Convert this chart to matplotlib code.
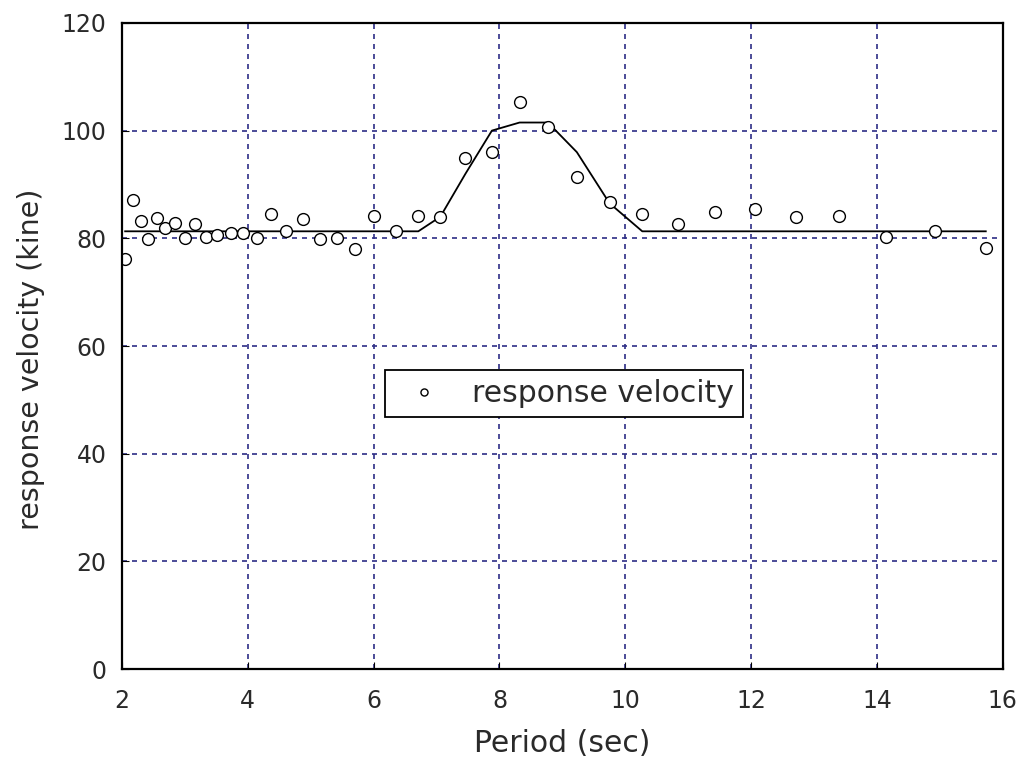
import numpy as np
import matplotlib
matplotlib.use("Agg")
import matplotlib.pyplot as plt

# 観測点 (周期, 応答速度)
period = [2.05, 2.18, 2.30, 2.41, 2.56, 2.68, 2.84, 3.00, 3.16, 3.34,
          3.51, 3.74, 3.93, 4.15, 4.37, 4.61, 4.88, 5.14, 5.42, 5.71,
          6.01, 6.36, 6.71, 7.06, 7.46, 7.88, 8.32, 8.77, 9.23, 9.75,
          10.27, 10.84, 11.43, 12.06, 12.72, 13.40, 14.14, 14.92, 15.73]
velocity = [76.2, 87.2, 83.3, 79.9, 83.7, 82.0, 82.9, 80.1, 82.7, 80.3,
            80.7, 80.9, 80.9, 80.1, 84.6, 81.4, 83.5, 79.9, 80.1, 78.1,
            84.2, 81.4, 84.2, 84.0, 95.0, 96.1, 105.3, 100.7, 91.4, 86.8,
            84.6, 82.7, 84.9, 85.5, 83.9, 84.1, 80.2, 81.4, 78.2]

# 平滑化した曲線 (同じ周期で評価)
fit_velocity = [81.3] * 23 + [84.0, 92.0, 100.0, 101.5, 101.5, 96.0, 86.5,
                              81.3, 81.3, 81.3, 81.3, 81.3, 81.3, 81.3, 81.3, 81.3]

txt_color = "#2a2a2a"

fig = plt.figure(figsize=(10.2, 7.63), dpi=100)
ax = fig.add_axes([0.1196, 0.123, 0.8635, 0.847])

ax.plot(period, fit_velocity, color="black", linewidth=1.3)
ax.plot(period, velocity, "o", markersize=8.5, markerfacecolor="white",
        markeredgecolor="black", markeredgewidth=1.0, linestyle="none",
        label="response velocity")

ax.set_xlim(2, 16)
ax.set_ylim(0, 120)
ax.set_xticks(np.arange(2, 17, 2))
ax.set_yticks(np.arange(0, 121, 20))
ax.grid(True, color="#2e2e86", linestyle=(0, (3, 3)), linewidth=1.2)
ax.tick_params(direction="in", length=5, labelsize=17, labelcolor=txt_color,
               top=False, right=False)
ax.tick_params(axis="x", pad=14)
ax.tick_params(axis="y", pad=11)
for s in ax.spines.values():
    s.set_linewidth(1.6)

ax.set_xlabel("Period (sec)", fontsize=21.5, color=txt_color, labelpad=12)
ax.set_ylabel("response velocity (kine)", fontsize=20.5, color=txt_color,
              labelpad=12)
ax.yaxis.label.set_y(0.48)

leg = ax.legend(loc="center", bbox_to_anchor=(0.502, 0.426), fontsize=21.5,
                markerscale=0.6, fancybox=False, framealpha=1,
                edgecolor="black", handlelength=2.0, handletextpad=0.6,
                borderpad=0.3, labelcolor=txt_color)
leg.get_frame().set_linewidth(1.3)

fig.savefig("out.png", dpi=100)
